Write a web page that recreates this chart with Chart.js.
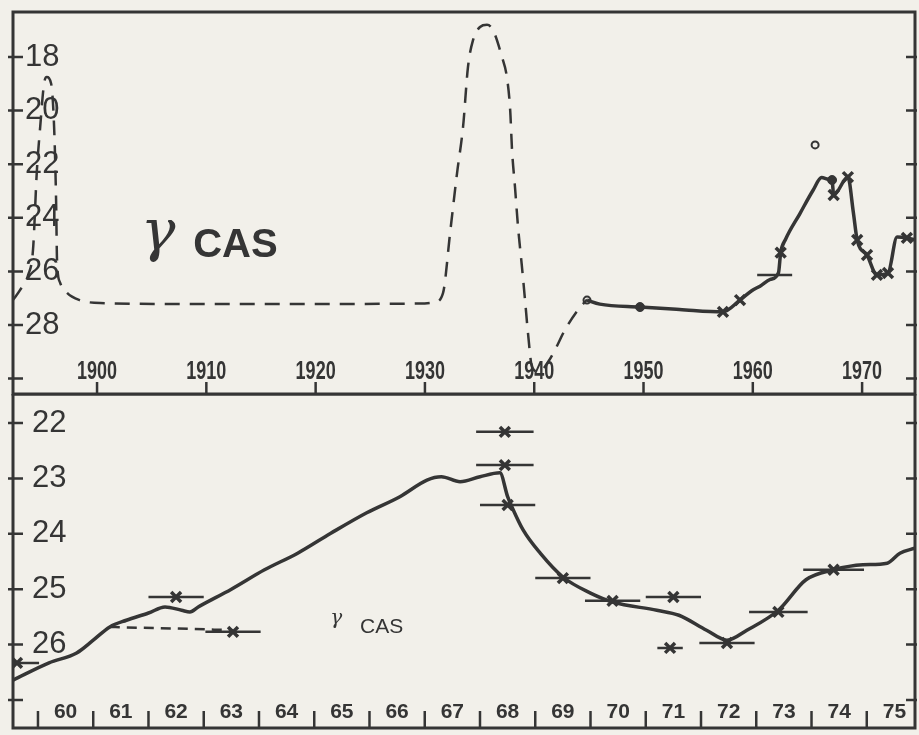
<!DOCTYPE html>
<html>
<head>
<meta charset="utf-8">
<script src="https://cdn.jsdelivr.net/npm/chart.js@4.4.1/dist/chart.umd.min.js"></script>
<style>
  html, body { margin: 0; padding: 0; background: #f2f0ea; }
  #quadro { position: relative; width: 919px; height: 735px; overflow: hidden; }
  canvas { position: absolute; left: 0; }
  #superior { top: 0; }
  #inferior { top: 394px; }
</style>
</head>
<body>
<div id="quadro">
  <canvas id="superior" width="919" height="396"></canvas>
  <canvas id="inferior" width="919" height="341"></canvas>
</div>
<script>
// Cores
const tinta = '#353535';
const papel = '#f2f0ea';

// ---- Painel superior (1892-1975) ----
const anosTicksSup = [1900, 1910, 1920, 1930, 1940, 1950, 1960, 1970];
const rotulosXSup = ['1900', '1910', '1920', '1930', '1940', '1950', '1960', '1970'];
const magTicksSup = [18, 20, 22, 24, 26, 28, 30];
const rotulosYSup = ['18', '20', '22', '24', '26', '28', ''];

// Curva tracejada (estimativa histórica)
const tracejadoAnos = [1892.3, 1892.95, 1893.7, 1894.14, 1894.5, 1894.8, 1895.15, 1895.4, 1895.8, 1896.07, 1896.25, 1896.34, 1896.6, 1897.25, 1898.4, 1900.3, 1910, 1920, 1929.5, 1930.9, 1931.66, 1932.3, 1932.94, 1933.49, 1933.94, 1934.4, 1935.04, 1935.68, 1936.23, 1937.05, 1937.5, 1937.8, 1937.97, 1938.24, 1938.52, 1938.88, 1939.16, 1939.43, 1939.8, 1940.44, 1941.26, 1941.9, 1942.8, 1944.0, 1944.83];
const tracejadoMag = [27.07, 26.7, 26.13, 25.2, 22.2, 20.6, 19.0, 18.75, 19.0, 20.6, 23.3, 25.6, 26.4, 26.8, 27.07, 27.18, 27.22, 27.22, 27.2, 27.15, 26.8, 24.57, 22.33, 20.6, 18.37, 17.37, 16.88, 16.8, 17.0, 18.0, 18.75, 19.98, 21.47, 22.85, 24.34, 25.84, 27.07, 28.3, 29.57, 29.75, 29.38, 28.93, 28.19, 27.44, 27.05];

// Curva contínua (observações)
const curvaAnos = [1944.83, 1946.0, 1949.68, 1953.3, 1957.27, 1958.83, 1959.9, 1960.66, 1961.6, 1962.35, 1962.55, 1963.0, 1964.3, 1965.5, 1966.3, 1966.9, 1967.25, 1967.4, 1968.7, 1969.2, 1969.55, 1970.45, 1971.36, 1972.37, 1973.2, 1974.1, 1974.85];
const curvaMag = [27.07, 27.22, 27.33, 27.42, 27.51, 27.07, 26.72, 26.55, 26.3, 26.05, 25.3, 24.8, 23.85, 22.98, 22.5, 22.56, 22.59, 23.15, 22.48, 23.8, 24.83, 25.39, 26.13, 26.06, 24.72, 24.75, 24.83];

const cruzesSupAnos = [1957.27, 1958.83, 1962.55, 1967.4, 1968.7, 1969.55, 1970.45, 1971.36, 1972.37, 1974.1];
const cruzesSupMag = [27.51, 27.07, 25.3, 23.15, 22.48, 24.83, 25.39, 26.13, 26.06, 24.75];
const pontosAnos = [1949.68, 1967.25];
const pontosMag = [27.33, 22.59];
const circulosAnos = [1944.83, 1965.7];
const circulosMag = [27.07, 21.28];
const barraSupAnos = [1962.0];
const barraSupMag = [26.13];
const barraSupMeia = [1.6];

// ---- Painel inferior (1960-1975) ----
const anosTicksInf = [1960, 1961, 1962, 1963, 1964, 1965, 1966, 1967, 1968, 1969, 1970, 1971, 1972, 1973, 1974, 1975, 1976];
const posRotulosInf = [1960.5, 1961.5, 1962.5, 1963.5, 1964.5, 1965.5, 1966.5, 1967.5, 1968.5, 1969.5, 1970.5, 1971.5, 1972.5, 1973.5, 1974.5, 1975.5];
const rotulosXInf = ['60', '61', '62', '63', '64', '65', '66', '67', '68', '69', '70', '71', '72', '73', '74', '75'];
const magTicksInf = [22, 23, 24, 25, 26, 27];
const rotulosYInf = ['22', '23', '24', '25', '26', ''];

const curvaInfAnos = [1959.55, 1960.2, 1960.7, 1961.0, 1961.3, 1961.6, 1962.0, 1962.3, 1962.6, 1962.75, 1962.9, 1963.5, 1964.1, 1964.7, 1965.3, 1965.95, 1966.55, 1967.04, 1967.3, 1967.64, 1968.0, 1968.36, 1968.5, 1968.58, 1968.78, 1969.09, 1969.5, 1970.0, 1970.4, 1971.2, 1971.6, 1972.1, 1972.47, 1972.83, 1973.4, 1973.9, 1974.4, 1974.93, 1975.37, 1975.6, 1975.87];
const curvaInfMag = [26.64, 26.33, 26.15, 25.92, 25.68, 25.56, 25.43, 25.32, 25.38, 25.41, 25.32, 25.0, 24.65, 24.35, 23.99, 23.62, 23.33, 23.03, 22.97, 23.06, 22.97, 22.9, 23.33, 23.52, 23.93, 24.35, 24.78, 25.07, 25.23, 25.38, 25.47, 25.74, 25.92, 25.74, 25.38, 24.83, 24.65, 24.56, 24.53, 24.35, 24.26];

const tracejadoInfAnos = [1961.3, 1961.6, 1962.5, 1963.53];
const tracejadoInfMag = [25.68, 25.69, 25.71, 25.74];

// Medidas com barra horizontal
const errAnos = [1959.62, 1962.5, 1963.53, 1968.45, 1968.45, 1968.5, 1969.5, 1970.4, 1971.5, 1971.44, 1972.47, 1973.4, 1974.4];
const errMag = [26.33, 25.14, 25.77, 22.16, 22.76, 23.48, 24.8, 25.21, 25.14, 26.06, 25.97, 25.41, 24.65];
const errMeia = [0.4, 0.5, 0.5, 0.52, 0.52, 0.5, 0.5, 0.5, 0.5, 0.23, 0.5, 0.53, 0.55];

// Utilitários
const pares = (xs, ys) => xs.map((x, i) => ({ x, y: ys[i] }));
const barras = (xs, ys, meias) => xs.flatMap((x, i) => [
    { x: x - meias[i], y: ys[i] },
    { x: x + meias[i], y: ys[i] },
    { x: x + meias[i], y: null }
]);

// Plugin: moldura, marcas internas, rótulos do eixo x e notas
const moldura = {
    id: 'moldura',
    afterDatasetsDraw(chart, args, opts) {
        const { ctx, chartArea: a, scales: { x, y } } = chart;
        ctx.save();
        ctx.strokeStyle = tinta;
        ctx.lineWidth = 3;
        ctx.strokeRect(a.left, a.top, a.right - a.left, a.bottom - a.top);

        ctx.lineWidth = 2.5;
        y.ticks.forEach(t => {
            const py = y.getPixelForValue(t.value);
            ctx.beginPath();
            ctx.moveTo(a.left - 5, py); ctx.lineTo(a.left + 10, py);
            ctx.moveTo(a.right - 9, py); ctx.lineTo(a.right + 2, py);
            ctx.stroke();
        });
        opts.ticksX.forEach(v => {
            const px = x.getPixelForValue(v);
            if (px < a.left + 3 || px > a.right - 3) return;
            ctx.beginPath();
            ctx.moveTo(px, a.bottom);
            ctx.lineTo(px, a.bottom - opts.altura);
            ctx.stroke();
        });

        // rótulos do eixo x (estreitados na horizontal)
        ctx.fillStyle = tinta;
        ctx.font = opts.fonte;
        ctx.textAlign = 'center';
        ctx.textBaseline = 'middle';
        opts.rotulos.forEach((txt, i) => {
            ctx.save();
            ctx.translate(x.getPixelForValue(opts.posRotulos[i]), a.bottom - opts.recuo);
            ctx.scale(opts.escalaX, 1);
            ctx.fillText(txt, 0, 0);
            ctx.restore();
        });

        ctx.textAlign = 'left';
        ctx.textBaseline = 'alphabetic';
        opts.notas.forEach(n => {
            ctx.font = n.fonte;
            ctx.fillText(n.texto, x.getPixelForValue(n.ano), y.getPixelForValue(n.mag));
        });
        ctx.restore();
    }
};

const linha = (dados, extra) => Object.assign({
    type: 'line', data: dados, borderColor: tinta, borderWidth: 3,
    pointRadius: 0, fill: false, cubicInterpolationMode: 'monotone'
}, extra);

const marcas = (dados, extra) => Object.assign({
    type: 'line', data: dados, showLine: false, pointStyle: 'crossRot',
    pointRadius: 7, pointBorderWidth: 3.5, pointBorderColor: tinta, pointBackgroundColor: tinta
}, extra);

const eixoY = (min, max, ticks, rotulos, pad) => ({
    type: 'linear', reverse: true, min, max,
    afterBuildTicks: s => { s.ticks = ticks.map(v => ({ value: v })); },
    afterFit: s => {
        s.width = 0;
        s.paddingTop = 0; s.paddingBottom = 0; s.paddingLeft = 0; s.paddingRight = 0;
    },
    grid: { display: false, drawTicks: false },
    border: { display: false },
    ticks: {
        mirror: true, padding: pad, autoSkip: false, color: tinta,
        font: { family: 'Liberation Sans', size: 31 },
        callback: (v, i) => rotulos[i]
    }
});

// Gráfico superior
new Chart(document.getElementById('superior'), {
    data: {
        datasets: [
            linha(pares(tracejadoAnos, tracejadoMag), { borderWidth: 2.5, borderDash: [15, 10] }),
            linha(pares(curvaAnos, curvaMag), { borderWidth: 3.5 }),
            linha(barras(barraSupAnos, barraSupMag, barraSupMeia), { borderWidth: 2.5, cubicInterpolationMode: 'default', spanGaps: false }),
            marcas(pares(cruzesSupAnos, cruzesSupMag)),
            marcas(pares(pontosAnos, pontosMag), { pointStyle: 'circle', pointRadius: 4.5, pointBorderWidth: 1 }),
            marcas(pares(circulosAnos, circulosMag), { pointStyle: 'circle', pointRadius: 3.5, pointBorderWidth: 2, pointBackgroundColor: papel })
        ]
    },
    options: {
        responsive: false, animation: false, events: [],
        layout: { autoPadding: false, padding: { left: 13, right: 4, top: 12, bottom: 2 } },
        plugins: {
            legend: { display: false }, tooltip: { enabled: false },
            moldura: {
                ticksX: anosTicksSup, altura: 12, posRotulos: anosTicksSup, rotulos: rotulosXSup,
                recuo: 22, fonte: 'bold 25px "Liberation Sans"', escalaX: 0.72,
                notas: [
                    { texto: 'γ', fonte: 'italic 58px "DejaVu Serif"', ano: 1904.0, mag: 25.2 },
                    { texto: 'CAS', fonte: 'bold 40px "Liberation Sans"', ano: 1908.8, mag: 25.46 }
                ]
            }
        },
        scales: {
            x: { type: 'linear', display: false, min: 1892.31, max: 1974.84 },
            y: eixoY(16.32, 30.575, magTicksSup, rotulosYSup, 12)
        }
    },
    plugins: [moldura]
});

// Gráfico inferior
new Chart(document.getElementById('inferior'), {
    data: {
        datasets: [
            linha(pares(curvaInfAnos, curvaInfMag), { borderWidth: 3.5 }),
            linha(pares(tracejadoInfAnos, tracejadoInfMag), { borderWidth: 2.5, borderDash: [10, 7] }),
            linha(barras(errAnos, errMag, errMeia), { borderWidth: 2.5, cubicInterpolationMode: 'default', spanGaps: false }),
            marcas(pares(errAnos, errMag))
        ]
    },
    options: {
        responsive: false, animation: false, events: [],
        layout: { autoPadding: false, padding: { left: 13, right: 4, top: 0, bottom: 7 } },
        plugins: {
            legend: { display: false }, tooltip: { enabled: false },
            moldura: {
                ticksX: anosTicksInf, altura: 17, posRotulos: posRotulosInf, rotulos: rotulosXInf,
                recuo: 16, fonte: 'bold 21px "Liberation Sans"', escalaX: 1,
                notas: [
                    { texto: 'γ', fonte: 'italic 20px "DejaVu Serif"', ano: 1965.29, mag: 25.62 },
                    { texto: 'CAS', fonte: '21px "Liberation Sans"', ano: 1965.83, mag: 25.79 }
                ]
            }
        },
        scales: {
            x: { type: 'linear', display: false, min: 1959.548, max: 1975.873 },
            y: eixoY(21.477, 27.505, magTicksInf, rotulosYInf, 19)
        }
    },
    plugins: [moldura]
});
</script>
</body>
</html>
